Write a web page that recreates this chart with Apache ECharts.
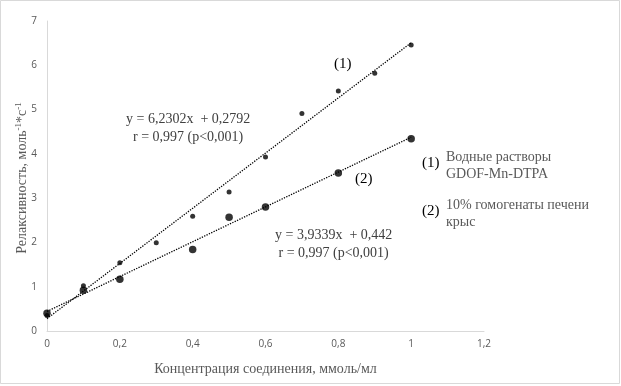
<!DOCTYPE html>
<html>
<head>
<meta charset="utf-8">
<script src="https://cdn.jsdelivr.net/npm/echarts@6/dist/echarts.min.js"></script>
<style>
  html, body { margin: 0; padding: 0; background: #fff; }
  #main { width: 621px; height: 386px; }
</style>
</head>
<body>
<div id="main"></div>
<script>
// концентрации, ммоль/мл
const concWater = [0, 0.1, 0.2, 0.3, 0.4, 0.5, 0.6, 0.7, 0.8, 0.9, 1]
const relaxWater = [0.35, 1.02, 1.54, 1.99, 2.59, 3.14, 3.93, 4.91, 5.42, 5.82, 6.46]
const concLiver = [0, 0.1, 0.2, 0.4, 0.5, 0.6, 0.8, 1]
const relaxLiver = [0.4, 0.92, 1.17, 1.84, 2.57, 2.80, 3.57, 4.34]
// линии тренда: y = k*x + b
const trendWater = { k: 6.2302, b: 0.2792 }
const trendLiver = { k: 3.9339, b: 0.442 }
const trendX = [0, 1]

const pairs = (xs, ys) => xs.map((x, i) => [x, ys[i]])
const trend = (t) => trendX.map((x) => [x, t.k * x + t.b])
const comma = (v) => String(v).replace('.', ',')

const serif = 'Liberation Serif'
const chart = echarts.init(document.getElementById('main'))

const dotted = { color: '#000', width: 1.3, type: [1.3, 1.3] }

const option = {
  animation: false,
  backgroundColor: '#fff',
  grid: { left: 47, right: 137, top: 21, bottom: 55 },
  xAxis: {
    type: 'value',
    min: 0,
    max: 1.2,
    interval: 0.2,
    name: 'Концентрация соединения, ммоль/мл',
    nameLocation: 'middle',
    nameGap: 31,
    nameTextStyle: { fontFamily: serif, fontSize: 14, color: '#595959' },
    axisLine: { show: true, lineStyle: { color: '#d9d9d9', width: 1 } },
    axisTick: { show: false },
    splitLine: { show: false },
    axisLabel: {
      color: '#595959',
      fontSize: 10,
      fontFamily: 'Open Sans',
      margin: 8,
      formatter: (v) => comma(+v.toFixed(1)),
    },
  },
  yAxis: {
    type: 'value',
    min: 0,
    max: 7,
    interval: 1,
    axisLine: { show: true, lineStyle: { color: '#d9d9d9', width: 1 } },
    axisTick: { show: false },
    splitLine: { show: false },
    axisLabel: { color: '#595959', fontSize: 10, fontFamily: 'Open Sans', margin: 10 },
  },
  series: [
    {
      name: 'trend1',
      type: 'line',
      data: trend(trendWater),
      symbol: 'none',
      lineStyle: dotted,
      z: 1,
    },
    {
      name: 'trend2',
      type: 'line',
      data: trend(trendLiver),
      symbol: 'none',
      lineStyle: dotted,
      z: 1,
    },
    {
      name: 'Водные растворы GDOF-Mn-DTPA',
      type: 'scatter',
      data: pairs(concWater, relaxWater),
      symbolSize: 5,
      itemStyle: { color: '#000' },
      z: 3,
    },
    {
      name: '10% гомогенаты печени крыс',
      type: 'scatter',
      data: pairs(concLiver, relaxLiver),
      symbolSize: 7.5,
      itemStyle: { color: '#000' },
      z: 3,
    },
  ],
  graphic: [
    {
      type: 'rect',
      shape: { x: 0.5, y: 0.5, width: 619, height: 383 },
      style: { fill: 'none', stroke: '#d9d9d9', lineWidth: 1 },
      silent: true,
    },
    // подпись оси Y
    {
      type: 'text',
      x: 22,
      y: 178,
      rotation: Math.PI / 2,
      style: {
        text: 'Релаксивность, моль{sup|-1}*с{sup|-1}',
        font: '14px "Liberation Serif"',
        fill: '#595959',
        align: 'center',
        verticalAlign: 'middle',
        rich: {
          sup: { fontFamily: serif, fontSize: 9, fill: '#595959', verticalAlign: 'top', padding: [0, 0, 6, 0] },
        },
      },
    },
    {
      type: 'text',
      left: 126,
      top: 110,
      style: {
        text: 'y = 6,2302x  + 0,2792\n  r = 0,997 (p<0,001)',
        font: '14px "Liberation Serif"',
        fill: '#404040',
        lineHeight: 18,
      },
    },
    {
      type: 'text',
      left: 275,
      top: 226,
      style: {
        text: 'y = 3,9339x  + 0,442\n r = 0,997 (p<0,001)',
        font: '14px "Liberation Serif"',
        fill: '#404040',
        lineHeight: 18,
      },
    },
    {
      type: 'text',
      left: 334,
      top: 57,
      style: { text: '(1)', font: '15px "Liberation Serif"', fill: '#000' },
    },
    {
      type: 'text',
      left: 355,
      top: 172,
      style: { text: '(2)', font: '15px "Liberation Serif"', fill: '#000' },
    },
    {
      type: 'text',
      left: 422,
      top: 156,
      style: { text: '(1)', font: '15px "Liberation Serif"', fill: '#000' },
    },
    {
      type: 'text',
      left: 446,
      top: 149,
      style: {
        text: 'Водные растворы\nGDOF-Mn-DTPA',
        font: '14px "Liberation Serif"',
        fill: '#595959',
        lineHeight: 17,
      },
    },
    {
      type: 'text',
      left: 422,
      top: 204,
      style: { text: '(2)', font: '15px "Liberation Serif"', fill: '#000' },
    },
    {
      type: 'text',
      left: 446,
      top: 197,
      style: {
        text: '10% гомогенаты печени\nкрыс',
        font: '14px "Liberation Serif"',
        fill: '#595959',
        lineHeight: 17,
      },
    },
  ],
}

chart.setOption(option)
</script>
</body>
</html>
